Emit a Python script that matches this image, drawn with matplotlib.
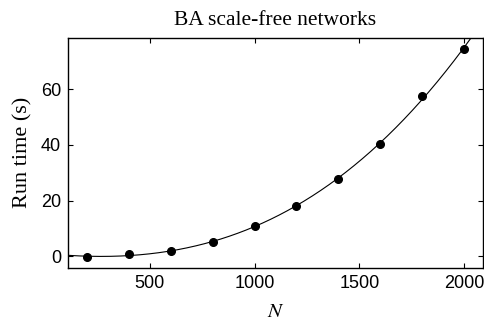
import numpy as np
import matplotlib.pyplot as plt

plt.rcParams["mathtext.fontset"] = "stix"

# network sizes and measured run times
n_nodes = [200, 400, 600, 800, 1000, 1200, 1400, 1600, 1800, 2000]
run_time = [-0.2, 0.9, 1.8, 5.2, 11.1, 18.1, 27.8, 40.3, 57.7, 74.4]

# smooth fit through the measurements
coef = np.polyfit(n_nodes, run_time, 3)
xs = np.linspace(110, 2090, 400)
ys = np.polyval(coef, xs)

fig = plt.figure(figsize=(4.84, 3.24), dpi=100)
ax = fig.add_axes([0.1405, 0.174, 0.8575, 0.71])

ax.plot(xs, ys, color="black", lw=0.8)
ax.plot(n_nodes, run_time, "o", color="black", ms=5.5)

ax.set_xlim(110, 2090)
ax.set_ylim(-4, 78.5)
ax.set_xticks([500, 1000, 1500, 2000])
ax.set_yticks([0, 20, 40, 60])
ax.tick_params(direction="in", top=True, right=True, length=3.5, width=0.8,
               labelsize=13, pad=5)
for lab in ax.get_xticklabels() + ax.get_yticklabels():
    lab.set_fontfamily("Liberation Sans")
for s in ax.spines.values():
    s.set_linewidth(1.0)

ax.set_title("BA scale-free networks", family="Liberation Serif", fontsize=15.5, pad=9)
ax.set_ylabel("Run time (s)", family="Liberation Serif", fontsize=16, labelpad=6)
ax.set_xlabel("$N$", fontsize=15, labelpad=7)

fig.savefig("out.png", dpi=100)
